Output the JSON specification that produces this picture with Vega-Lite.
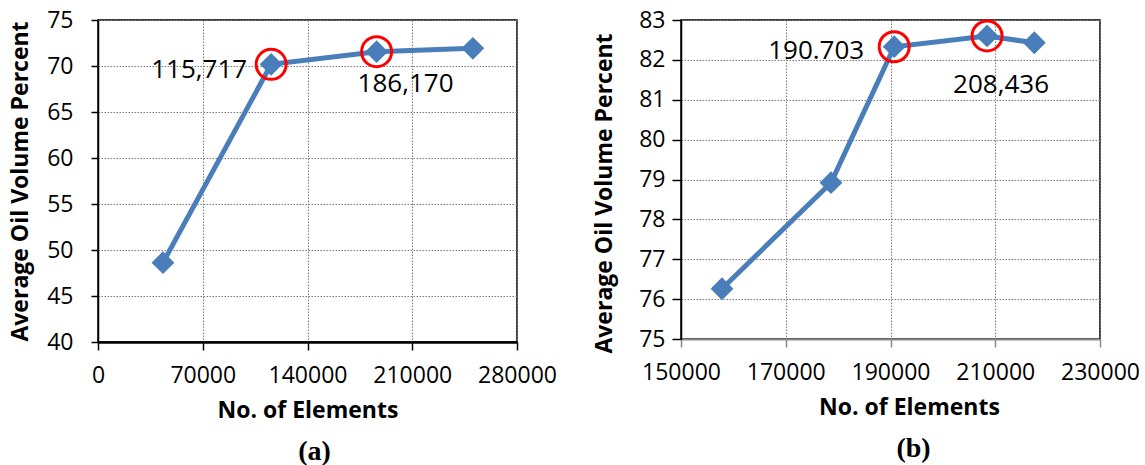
{
  "$schema": "https://vega.github.io/schema/vega-lite/v6.json",
  "background": "white",
  "padding": {"left": 8, "top": 8, "right": 0, "bottom": 0},
  "spacing": 34,
  "config": {
    "view": {"stroke": "black", "strokeWidth": 1.5},
    "axis": {
      "labelFont": "Open Sans",
      "labelFontSize": 23,
      "labelColor": "black",
      "labelOverlap": false,
      "labelFlush": false,
      "titleFont": "Open Sans",
      "titleFontSize": 23,
      "titleFontWeight": "bold",
      "titleColor": "black",
      "gridColor": "#7a7a7a",
      "gridDash": [1.5, 1.5],
      "gridWidth": 1,
      "domainColor": "black",
      "domainWidth": 1.5,
      "tickColor": "black",
      "tickWidth": 1.5
    },
    "title": {"font": "Liberation Serif", "fontSize": 28, "fontWeight": "bold", "color": "black"}
  },
  "hconcat": [
    {
      "width": 419,
      "height": 322,
      "data": {"values": [
        {"n": 43400, "pct": 48.62, "label": null},
        {"n": 115717, "pct": 70.18, "label": "115,717"},
        {"n": 186170, "pct": 71.56, "label": "186,170"},
        {"n": 250500, "pct": 71.92, "label": null}
      ]},
      "title": {"text": "(a)", "orient": "bottom", "dx": 7, "offset": 16},
      "encoding": {
        "x": {"field": "n", "type": "quantitative",
          "scale": {"domain": [0, 280000], "nice": false, "zero": false},
          "axis": {"title": "No. of Elements", "values": [0, 70000, 140000, 210000, 280000], "format": "d",
            "domainWidth": 2.5, "tickSize": 8, "labelPadding": 14, "titlePadding": 12}},
        "y": {"field": "pct", "type": "quantitative",
          "scale": {"domain": [40, 75], "nice": false, "zero": false},
          "axis": {"title": "Average Oil Volume Percent", "values": [40, 45, 50, 55, 60, 65, 70, 75],
            "tickSize": 7, "labelPadding": 18, "titlePadding": 14}}
      },
      "layer": [
        {"mark": {"type": "line", "color": "#4a7ebb", "strokeWidth": 5}},
        {"mark": {"type": "point", "shape": "diamond", "filled": true, "color": "#4a7ebb", "size": 520, "opacity": 1}},
        {"transform": [{"filter": "datum.label != null"}],
          "mark": {"type": "point", "shape": "circle", "filled": false, "stroke": "#ff0000", "strokeWidth": 3, "size": 900, "opacity": 1}},
        {"transform": [{"filter": "datum.label == '115,717'"}],
          "mark": {"type": "text", "align": "right", "baseline": "alphabetic", "dx": -24, "dy": 14, "font": "Open Sans", "fontSize": 26, "color": "black"},
          "encoding": {"text": {"field": "label"}}},
        {"transform": [{"filter": "datum.label == '186,170'"}],
          "mark": {"type": "text", "align": "center", "baseline": "alphabetic", "dx": 29, "dy": 40, "font": "Open Sans", "fontSize": 26, "color": "black"},
          "encoding": {"text": {"field": "label"}}}
      ]
    },
    {
      "width": 419,
      "height": 319,
      "data": {"values": [
        {"n": 157830, "pct": 76.26, "label": null},
        {"n": 178640, "pct": 78.92, "label": null},
        {"n": 190703, "pct": 82.33, "label": "190.703"},
        {"n": 208436, "pct": 82.6, "label": "208,436"},
        {"n": 217460, "pct": 82.43, "label": null}
      ]},
      "title": {"text": "(b)", "orient": "bottom", "dx": 23, "offset": 16},
      "encoding": {
        "x": {"field": "n", "type": "quantitative",
          "scale": {"domain": [150000, 230000], "nice": false, "zero": false},
          "axis": {"title": "No. of Elements", "values": [150000, 170000, 190000, 210000, 230000], "format": "d",
            "domainColor": "#8a8a8a", "domainWidth": 2, "tickColor": "#8a8a8a", "tickSize": 8,
            "labelPadding": 14, "titlePadding": 12, "titleX": 228}},
        "y": {"field": "pct", "type": "quantitative",
          "scale": {"domain": [75, 83], "nice": false, "zero": false},
          "axis": {"title": "Average Oil Volume Percent", "values": [75, 76, 77, 78, 79, 80, 81, 82, 83],
            "tickSize": 9, "labelPadding": 7, "titlePadding": 22, "titleY": 173}}
      },
      "layer": [
        {"mark": {"type": "line", "color": "#4a7ebb", "strokeWidth": 5}},
        {"mark": {"type": "point", "shape": "diamond", "filled": true, "color": "#4a7ebb", "size": 520, "opacity": 1}},
        {"transform": [{"filter": "datum.label != null"}],
          "mark": {"type": "point", "shape": "circle", "filled": false, "stroke": "#ff0000", "strokeWidth": 3, "size": 900, "opacity": 1}},
        {"transform": [{"filter": "datum.label == '190.703'"}],
          "mark": {"type": "text", "align": "right", "baseline": "alphabetic", "dx": -30, "dy": 12, "font": "Open Sans", "fontSize": 26, "color": "black"},
          "encoding": {"text": {"field": "label"}}},
        {"transform": [{"filter": "datum.label == '208,436'"}],
          "mark": {"type": "text", "align": "center", "baseline": "alphabetic", "dx": 14, "dy": 57, "font": "Open Sans", "fontSize": 26, "color": "black"},
          "encoding": {"text": {"field": "label"}}}
      ]
    }
  ]
}
